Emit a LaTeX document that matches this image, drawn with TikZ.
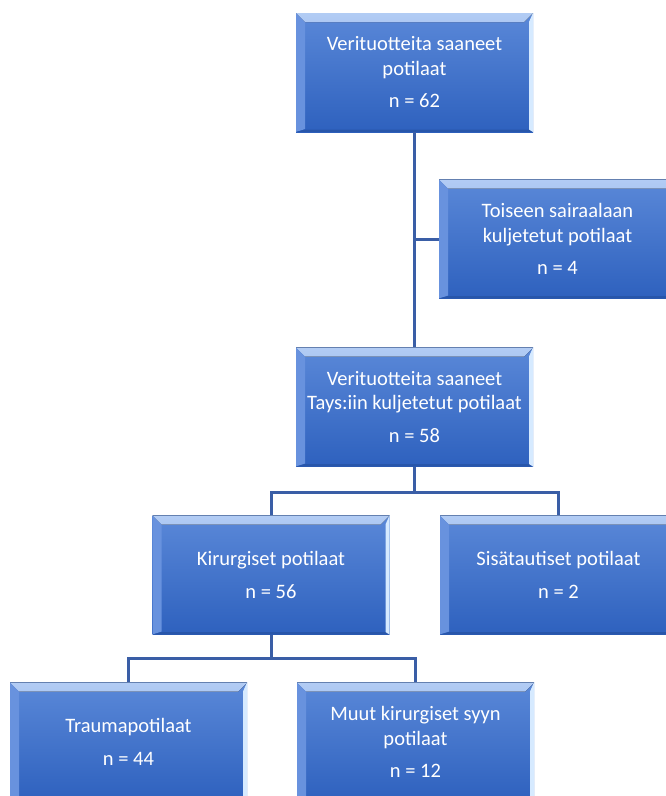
\documentclass[tikz,border=0pt]{standalone}
\usepackage{fontspec}
\setmainfont{Carlito}
\definecolor{boxtop}{RGB}{90,136,216}
\definecolor{boxbot}{RGB}{46,97,190}
\definecolor{bevhi}{RGB}{178,204,244}
\definecolor{bevlo}{RGB}{112,152,226}
\definecolor{bevleft}{RGB}{104,146,222}
\definecolor{bevright}{RGB}{214,234,255}
\definecolor{bevbot}{RGB}{40,86,170}
\definecolor{conn}{RGB}{58,94,166}
\tikzset{
  sbox/.style={minimum width=237pt, minimum height=119pt, inner sep=0pt,
    text=white, align=center, font=\fontsize{20.5}{24.5}\selectfont,
    top color=boxtop, bottom color=boxbot,
    path picture={
      \fill[top color=bevhi, bottom color=bevlo]
        (path picture bounding box.north west) -- (path picture bounding box.north east)
        -- ([xshift=-9pt,yshift=-9pt]path picture bounding box.north east)
        -- ([xshift=9pt,yshift=-9pt]path picture bounding box.north west) -- cycle;
      \fill[bevleft]
        (path picture bounding box.north west)
        -- ([xshift=9pt,yshift=-9pt]path picture bounding box.north west)
        -- ([xshift=9pt,yshift=3pt]path picture bounding box.south west)
        -- (path picture bounding box.south west) -- cycle;
      \fill[bevbot]
        (path picture bounding box.south west) -- (path picture bounding box.south east)
        -- ([xshift=-4pt,yshift=2.5pt]path picture bounding box.south east)
        -- ([xshift=9pt,yshift=2.5pt]path picture bounding box.south west) -- cycle;
      \fill[bevright]
        (path picture bounding box.north east) -- (path picture bounding box.south east)
        -- ([xshift=-4pt,yshift=2.5pt]path picture bounding box.south east)
        -- ([xshift=-4pt,yshift=-9pt]path picture bounding box.north east) -- cycle;
    }},
  link/.style={draw=conn, line width=3pt}
}
\begin{document}
\begin{tikzpicture}[x=1pt,y=-1pt]
\useasboundingbox (0,0) rectangle (666,796);
\clip (0,0) rectangle (666,796);
\node[sbox] (b1) at (414.5,72.5) {Verituotteita saaneet\\potilaat\\[8pt]n = 62};
\node[sbox] (b2) at (557.5,239) {Toiseen sairaalaan\\kuljetetut potilaat\\[8pt]n = 4};
\node[sbox] (b3) at (414.5,407) {Verituotteita saaneet\\Tays:iin kuljetetut potilaat\\[8pt]n = 58};
\node[sbox] (b4) at (271,575) {Kirurgiset potilaat\\[8pt]n = 56};
\node[sbox] (b5) at (558.5,575) {Sisätautiset potilaat\\[8pt]n = 2};
\node[sbox] (b6) at (128.5,742) {Traumapotilaat\\[8pt]n = 44};
\node[sbox] (b7) at (415.5,742) {Muut kirurgiset syyn\\potilaat\\[8pt]n = 12};
\coordinate (j1) at (414.5,492);
\coordinate (j2) at (271,658);
\draw[link] (b1.south) -- (b3.north);
\draw[link] (b2.west) -- (b2.west -| b1.south);
\draw[link] (b3.south) -- (j1);
\draw[link] (b4.north) |- (j1) -| (b5.north);
\draw[link] (b4.south) -- (j2);
\draw[link] (b6.north) |- (j2) -| (b7.north);
\end{tikzpicture}
\end{document}
